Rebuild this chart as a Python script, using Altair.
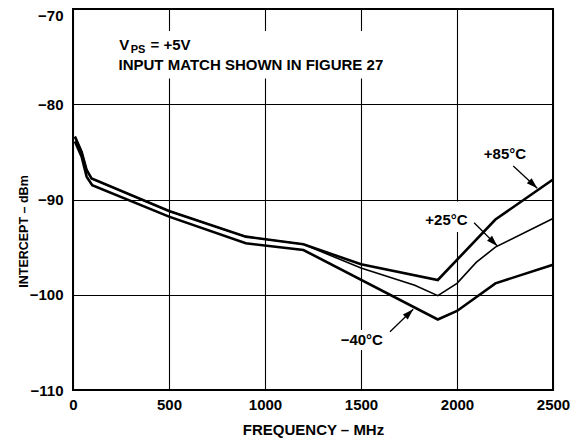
import altair as alt
import pandas as pd

# ---- data ----
freq_85 = [10, 45, 71, 97, 500, 900, 1200, 1500, 1900, 2200, 2500]
icpt_85 = [-83.4, -85.0, -86.9, -87.8, -91.2, -93.9, -94.7, -96.8, -98.45, -92.1, -87.9]

freq_25 = [10, 45, 71, 97, 500, 900, 1200, 1500, 1780, 1900, 2000, 2100, 2200, 2500]
icpt_25 = [-83.4, -85.0, -86.9, -87.8, -91.2, -93.9, -94.7, -97.2, -99.0, -100.1, -98.8, -96.6, -95.0, -92.0]

freq_m40 = [10, 45, 71, 100, 500, 900, 1200, 1900, 2000, 2200, 2500]
icpt_m40 = [-83.9, -85.5, -87.6, -88.5, -91.8, -94.6, -95.3, -102.6, -101.7, -98.8, -96.85]

x_ticks = [0, 500, 1000, 1500, 2000, 2500]
y_ticks = [-110, -100, -90, -80, -70]

# annotations (data units)
curve_labels = ["+85°C", "+25°C", "−40°C"]
curve_label_x = [2250, 1945, 1504]
curve_label_y = [-85.22, -92.15, -104.75]

arrow_x1 = [2293, 2089, 1651]
arrow_y1 = [-86.48, -92.44, -103.88]
arrow_x2 = [2418, 2210, 1772]
arrow_y2 = [-88.82, -94.88, -101.53]
arrow_angle = [133, 135, 46]

note_text = ["V", "PS", "= +5V", "INPUT MATCH SHOWN IN FIGURE 27"]
note_x = [241, 300.5, 403.6, 237]
note_y = [-74.30, -74.65, -74.30, -76.40]
note_size = [15, 11, 15, 15]

mask_x1 = [200, 1823, 1365]
mask_x2 = [1720, 2068, 1651]
mask_y1 = [-72.3, -90.2, -103.7]
mask_y2 = [-77.3, -93.4, -105.8]

FONT = "Liberation Sans"

# ---- tables ----
curves = pd.concat([
    pd.DataFrame({"f": freq_85, "v": icpt_85, "s": "+85°C"}),
    pd.DataFrame({"f": freq_25, "v": icpt_25, "s": "+25°C"}),
    pd.DataFrame({"f": freq_m40, "v": icpt_m40, "s": "−40°C"}),
])
labels_df = pd.DataFrame({"t": curve_labels, "x": curve_label_x, "y": curve_label_y})
arrows_df = pd.DataFrame({"x1": arrow_x1, "y1": arrow_y1, "x2": arrow_x2, "y2": arrow_y2, "a": arrow_angle})
notes_df = pd.DataFrame({"t": note_text, "x": note_x, "y": note_y, "sz": note_size})
mask_df = pd.DataFrame({"x1": mask_x1, "x2": mask_x2, "y1": mask_y1, "y2": mask_y2})

xscale = alt.Scale(domain=[0, 2500], nice=False, zero=False)
yscale = alt.Scale(domain=[-110, -70], nice=False, zero=False)

xaxis = alt.Axis(
    values=x_ticks, format="d", grid=True, ticks=False, domain=False, labelFlush=False,
    labelFont=FONT, labelFontSize=15, labelFontWeight="bold", labelColor="black",
    labelPadding=7, labelOverlap=False,
    title="FREQUENCY – MHz", titleFont=FONT, titleFontSize=15, titleFontWeight="bold",
    titleColor="black", titleY=44, titleBaseline="alphabetic",
    gridColor="black", gridWidth=1.1, gridOpacity=1,
)
yaxis = alt.Axis(
    values=y_ticks, format="d", grid=True, ticks=False, domain=False, labelFlush=False,
    labelFont=FONT, labelFontSize=15, labelFontWeight="bold", labelColor="black",
    labelPadding=10, labelOverlap=False,
    labelOffset={"condition": {"test": "datum.value == -70", "value": 6}, "value": 0},
    title="INTERCEPT – dBm", titleFont=FONT, titleFontSize=12.5, titleFontWeight="bold",
    titleColor="black", titleAngle=270, titleX=-46, titleY=222,
    titleAlign="center", titleBaseline="alphabetic",
    gridColor="black", gridWidth=1.1, gridOpacity=1,
)

mask = alt.Chart(mask_df).mark_rect(color="white").encode(
    x=alt.X("x1:Q", scale=xscale, axis=xaxis),
    x2="x2:Q",
    y=alt.Y("y1:Q", scale=yscale, axis=yaxis),
    y2="y2:Q",
)

def curve(name, width):
    return alt.Chart(curves).transform_filter(alt.datum.s == name).mark_line(
        color="black", strokeWidth=width, strokeJoin="miter"
    ).encode(
        x=alt.X("f:Q", scale=xscale),
        y=alt.Y("v:Q", scale=yscale),
    )

arrow_lines = alt.Chart(arrows_df).mark_rule(color="black", strokeWidth=1.3).encode(
    x=alt.X("x1:Q", scale=xscale), x2="x2:Q",
    y=alt.Y("y1:Q", scale=yscale), y2="y2:Q",
)
arrow_heads = alt.Chart(arrows_df).mark_point(
    shape="M0,0L0.64,2L-0.64,2Z", filled=True, color="black", opacity=1, size=121
).encode(
    x=alt.X("x2:Q", scale=xscale),
    y=alt.Y("y2:Q", scale=yscale),
    angle=alt.Angle("a:Q", scale=None),
)

curve_text = alt.Chart(labels_df).mark_text(
    font=FONT, fontSize=15, fontWeight="bold", color="black", align="center", baseline="middle"
).encode(
    x=alt.X("x:Q", scale=xscale), y=alt.Y("y:Q", scale=yscale), text="t:N"
)

note_layer = alt.Chart(notes_df).mark_text(
    font=FONT, fontWeight="bold", color="black", align="left", baseline="alphabetic"
).encode(
    x=alt.X("x:Q", scale=xscale), y=alt.Y("y:Q", scale=yscale), text="t:N",
    size=alt.Size("sz:Q", scale=None),
)

chart = alt.layer(
    mask,
    curve("−40°C", 2.6),
    curve("+85°C", 2.6),
    curve("+25°C", 1.6),
    arrow_lines,
    arrow_heads,
    curve_text,
    note_layer,
).properties(
    width=480, height=381,
    padding={"left": 65, "top": 1, "right": 20, "bottom": 48},
    autosize=alt.AutoSizeParams(type="none"),
    background="white",
).configure_view(stroke="black", strokeWidth=2)

chart.save("out.html", embed_options={"renderer": "svg", "actions": False})
